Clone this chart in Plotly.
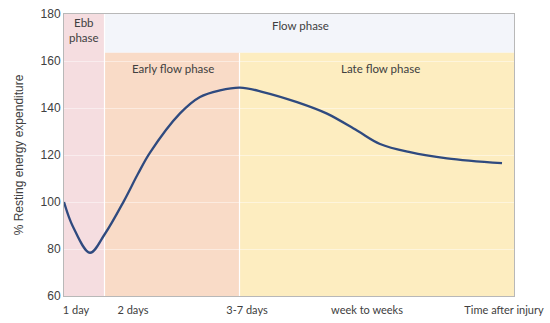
import plotly.graph_objects as go

# curve data (x in chart units, y = % resting energy expenditure)
time_x = [0, 9, 26, 41, 60, 74, 86, 116, 136, 156, 176, 199, 233, 263, 293, 316, 346, 383, 438]
ree = [100, 89.5, 78.4, 86.5, 100.5, 112, 121, 137.7, 144.7, 147.5, 148.7, 146.8, 142.5, 137.6, 130.4, 124.7, 121.2, 118.6, 116.5]

tick_pos = [12, 69, 183, 303, 440]
tick_text = ["1 day", "2 days", "3-7 days", "week to weeks", "Time after injury"]

phase_names = ["Ebb<br>phase", "Flow phase", "Early flow phase", "Late flow phase"]
ebb_range = [0, 40.5]
early_range = [40.5, 175.5]
late_range = [175.5, 450]
flow_top = 163.5

fig = go.Figure()

shapes = [
    dict(type="rect", xref="x", yref="y", x0=ebb_range[0], x1=ebb_range[1], y0=60, y1=180,
         fillcolor="#f5dde0", line=dict(width=0), layer="below"),
    dict(type="rect", xref="x", yref="y", x0=early_range[0], x1=late_range[1], y0=flow_top, y1=180,
         fillcolor="#f3f5fa", line=dict(width=0), layer="below"),
    dict(type="rect", xref="x", yref="y", x0=early_range[0], x1=early_range[1], y0=60, y1=flow_top,
         fillcolor="#f9dbc7", line=dict(width=0), layer="below"),
    dict(type="rect", xref="x", yref="y", x0=late_range[0], x1=late_range[1], y0=60, y1=flow_top,
         fillcolor="#fdedc0", line=dict(width=0), layer="below"),
    dict(type="line", xref="x", yref="y", x0=ebb_range[1], x1=ebb_range[1], y0=60, y1=180,
         line=dict(color="white", width=1.2), layer="below"),
    dict(type="line", xref="x", yref="y", x0=early_range[1], x1=early_range[1], y0=60, y1=flow_top,
         line=dict(color="white", width=1.2), layer="below"),
]

fig.add_trace(go.Scatter(x=time_x, y=ree, mode="lines",
                         line=dict(color="#2f4a7f", width=2.3, shape="spline", smoothing=1.0),
                         hoverinfo="skip", showlegend=False))

lab_font = dict(family="Lato, Open Sans, sans-serif", size=11.5, color="#404040")
annotations = [
    dict(x=sum(ebb_range) / 2, y=173, text=phase_names[0], showarrow=False, font=lab_font, xref="x", yref="y"),
    dict(x=236, y=175.3, text=phase_names[1], showarrow=False, font=lab_font, xref="x", yref="y"),
    dict(x=109, y=157, text=phase_names[2], showarrow=False, font=lab_font, xref="x", yref="y"),
    dict(x=316, y=157, text=phase_names[3], showarrow=False, font=lab_font, xref="x", yref="y"),
]

fig.update_layout(
    width=550, height=323,
    margin=dict(l=64, r=36, t=14, b=27, autoexpand=False),
    paper_bgcolor="white", plot_bgcolor="white",
    shapes=shapes, annotations=annotations,
    xaxis=dict(range=[0, 450], tickvals=tick_pos, ticktext=tick_text, showgrid=False, automargin=False,
               zeroline=False, showline=True, linecolor="#b8b8b8", linewidth=1, mirror=True,
               ticks="", ticklabelstandoff=4,
               tickfont=dict(family="Lato, Open Sans, sans-serif", size=11, color="#404040")),
    yaxis=dict(range=[60, 180], tickvals=[60, 80, 100, 120, 140, 160, 180], showgrid=True, automargin=False,
               gridcolor="rgba(255,255,255,0.45)", gridwidth=1, zeroline=False,
               showline=True, linecolor="#b8b8b8", linewidth=1, mirror=True, ticks="",
               tickfont=dict(family="Liberation Sans, Arial, sans-serif", size=12, color="#404040"),
               title=dict(text="% Resting energy expenditure", standoff=14,
                          font=dict(family="Liberation Sans, Arial, sans-serif", size=12, color="#404040"))),
)

fig.write_html("out.html", config={"displayModeBar": False})

# remove the default page margin so the figure sits at the window's corner
with open("out.html", "r", encoding="utf-8") as f:
    html = f.read()
html = html.replace("<head>", "<head><style>html,body{margin:0;padding:0;overflow:hidden;}</style>", 1)
with open("out.html", "w", encoding="utf-8") as f:
    f.write(html)
